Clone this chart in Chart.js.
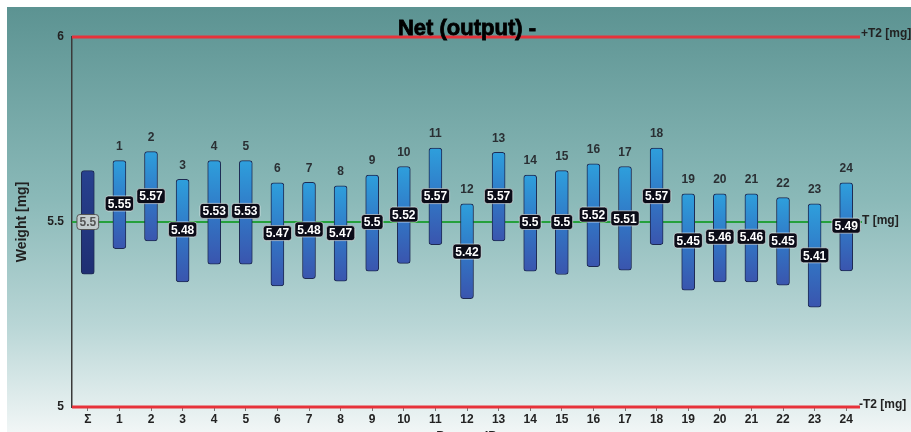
<!DOCTYPE html>
<html>
<head>
<meta charset="utf-8"/>
<script src="https://cdn.jsdelivr.net/npm/chart.js@4/dist/chart.umd.min.js"></script>
<style>
  body { margin: 0; background: #fff; }
  #wrap { width: 911px; height: 432px; }
</style>
</head>
<body>
<div id="wrap"><canvas id="c" width="911" height="432"></canvas></div>
<script>
// dosing ids (Σ = overall)
var labels = ['Σ','1','2','3','4','5','6','7','8','9','10','11','12','13','14','15','16','17','18','19','20','21','22','23','24'];
// min / max weight per id [mg]
var barMin = [5.359,5.428,5.449,5.338,5.386,5.386,5.327,5.347,5.340,5.367,5.388,5.439,5.293,5.449,5.367,5.358,5.379,5.370,5.439,5.316,5.338,5.338,5.329,5.270,5.368];
var barMax = [5.639,5.666,5.690,5.615,5.666,5.666,5.606,5.607,5.598,5.627,5.650,5.700,5.549,5.688,5.627,5.639,5.657,5.650,5.700,5.576,5.576,5.576,5.566,5.549,5.606];
// mean weight per id [mg]
var means = [5.5,5.55,5.57,5.48,5.53,5.53,5.47,5.48,5.47,5.5,5.52,5.57,5.42,5.57,5.5,5.5,5.52,5.51,5.57,5.45,5.46,5.46,5.45,5.41,5.49];
// limits
var upperT2 = 6, target = 5.5, lowerT2 = 5;
var yTicks = [5, 5.5, 6];

var FONT = '"Liberation Sans", Arial, sans-serif';

var ranges = barMin.map(function(v, i) { return [v, barMax[i]]; });

function barFill(c) {
  var chart = c.chart;
  if (!chart.chartArea || !chart.scales.y) return '#3576c4';
  var y = chart.scales.y;
  var r = c.raw;
  var g = chart.ctx.createLinearGradient(0, y.getPixelForValue(r[1]), 0, y.getPixelForValue(r[0]));
  if (c.dataIndex == 0) {
    g.addColorStop(0, '#27418f');
    g.addColorStop(1, '#1f2f73');
  } else {
    g.addColorStop(0, '#2e9fdc');
    g.addColorStop(0.5, '#3178c6');
    g.addColorStop(1, '#3a55ae');
  }
  return g;
}

var decor = {
  id: 'decor',
  beforeDraw: function(chart) {
    var ctx = chart.ctx;
    ctx.save();
    ctx.fillStyle = '#fff';
    ctx.fillRect(0, 0, chart.width, chart.height);
    var g = ctx.createLinearGradient(0, 7, 0, chart.height);
    g.addColorStop(0, '#5c9392');
    g.addColorStop(0.45, '#8ab9b8');
    g.addColorStop(0.75, '#b9d6d6');
    g.addColorStop(1, '#f1f6f6');
    ctx.fillStyle = g;
    ctx.fillRect(7, 7, chart.width - 7, chart.height - 7);
    ctx.restore();
  },
  beforeDatasetsDraw: function(chart) {
    var ctx = chart.ctx, a = chart.chartArea, y = chart.scales.y;
    ctx.save();
    // T line
    ctx.strokeStyle = '#25a03c';
    ctx.lineWidth = 2;
    ctx.beginPath();
    ctx.moveTo(a.left, y.getPixelForValue(target));
    ctx.lineTo(a.right, y.getPixelForValue(target));
    ctx.stroke();
    // +/-T2 lines
    ctx.strokeStyle = '#e7323a';
    ctx.lineWidth = 3;
    [upperT2, lowerT2].forEach(function(v) {
      var py = y.getPixelForValue(v);
      ctx.beginPath();
      ctx.moveTo(a.left, py);
      ctx.lineTo(a.right - 2, py);
      ctx.stroke();
    });
    ctx.restore();
  },
  afterDatasetsDraw: function(chart) {
    var ctx = chart.ctx, a = chart.chartArea, y = chart.scales.y;
    var meta = chart.getDatasetMeta(0);
    ctx.save();
    ctx.textAlign = 'center';
    ctx.textBaseline = 'middle';

    meta.data.forEach(function(bar, i) {
      // id label above bar
      if (i > 0) {
        ctx.font = 'bold 12px ' + FONT;
        ctx.fillStyle = '#2a2f33';
        ctx.fillText(labels[i], bar.x, y.getPixelForValue(barMax[i]) - 14);
      }
      // mean label box
      var txt = String(means[i]);
      ctx.font = 'bold 12px ' + FONT;
      var w = ctx.measureText(txt).width + 5;
      var h = 15;
      var py = y.getPixelForValue(means[i]);
      ctx.beginPath();
      ctx.roundRect(bar.x - w / 2, py - h / 2, w, h, 3);
      if (i == 0) {
        ctx.fillStyle = '#c3cccd';
        ctx.strokeStyle = '#555';
      } else {
        ctx.fillStyle = '#0b0c18';
        ctx.strokeStyle = 'rgba(255,255,255,0.55)';
      }
      ctx.lineWidth = 1;
      ctx.fill();
      ctx.stroke();
      ctx.fillStyle = i == 0 ? '#555' : '#fff';
      ctx.fillText(txt, bar.x, py + 1);
    });

    // right side limit labels
    ctx.font = 'bold 12px ' + FONT;
    ctx.fillStyle = '#222';
    ctx.textAlign = 'left';
    ctx.fillText('+T2 [mg]', a.right - 1, y.getPixelForValue(upperT2) - 3);
    ctx.fillText('T [mg]', a.right, y.getPixelForValue(target) - 1);
    ctx.fillText('-T2 [mg]', a.right - 3, y.getPixelForValue(lowerT2) - 2);

    // title
    ctx.textAlign = 'center';
    ctx.textBaseline = 'alphabetic';
    ctx.font = 'bold 22px ' + FONT;
    ctx.fillStyle = '#000';
    ctx.strokeStyle = '#000';
    ctx.lineWidth = 0.8;
    ctx.fillText('Net (output) -', 467, 35);
    ctx.strokeText('Net (output) -', 467, 35);

    // x title (cut at the bottom edge)
    ctx.font = 'bold 13px ' + FONT;
    ctx.fillStyle = '#222';
    ctx.textBaseline = 'middle';
    ctx.fillText('Dosern ID', 467, 436);

    // y title
    ctx.translate(22, (a.top + a.bottom) / 2);
    ctx.rotate(-Math.PI / 2);
    ctx.font = 'bold 14px ' + FONT;
    ctx.fillText('Weight [mg]', 0, 0);
    ctx.restore();
  }
};

new Chart(document.getElementById('c'), {
  type: 'bar',
  data: {
    labels: labels,
    datasets: [{
      data: ranges,
      backgroundColor: barFill,
      borderColor: '#1e2a52',
      borderWidth: 1,
      borderRadius: 3,
      borderSkipped: false,
      barThickness: 13
    }]
  },
  options: {
    responsive: false,
    animation: false,
    layout: { padding: { top: 37, right: 49, left: 0, bottom: 0 } },
    plugins: { legend: { display: false }, tooltip: { enabled: false } },
    scales: {
      x: {
        offset: true,
        grid: { display: true, drawOnChartArea: false, offset: false, tickLength: 4, color: '#777' },
        border: { display: false },
        ticks: { font: { family: FONT, size: 12, weight: 'bold' }, color: '#222', padding: 1, maxRotation: 0, autoSkip: false },
        afterFit: function(s) { s.height = 25; }
      },
      y: {
        min: lowerT2,
        max: upperT2,
        grid: { display: false, drawTicks: false },
        border: { display: true, color: '#3a3a3a', width: 1.5 },
        afterBuildTicks: function(s) { s.ticks = yTicks.map(function(v) { return { value: v }; }); },
        ticks: {
          font: { family: FONT, size: 12, weight: 'bold' }, color: '#222', padding: 8,
          callback: function(v) { return String(v); }
        },
        afterFit: function(s) { s.width = 72; }
      }
    }
  },
  plugins: [decor]
});
</script>
</body>
</html>
